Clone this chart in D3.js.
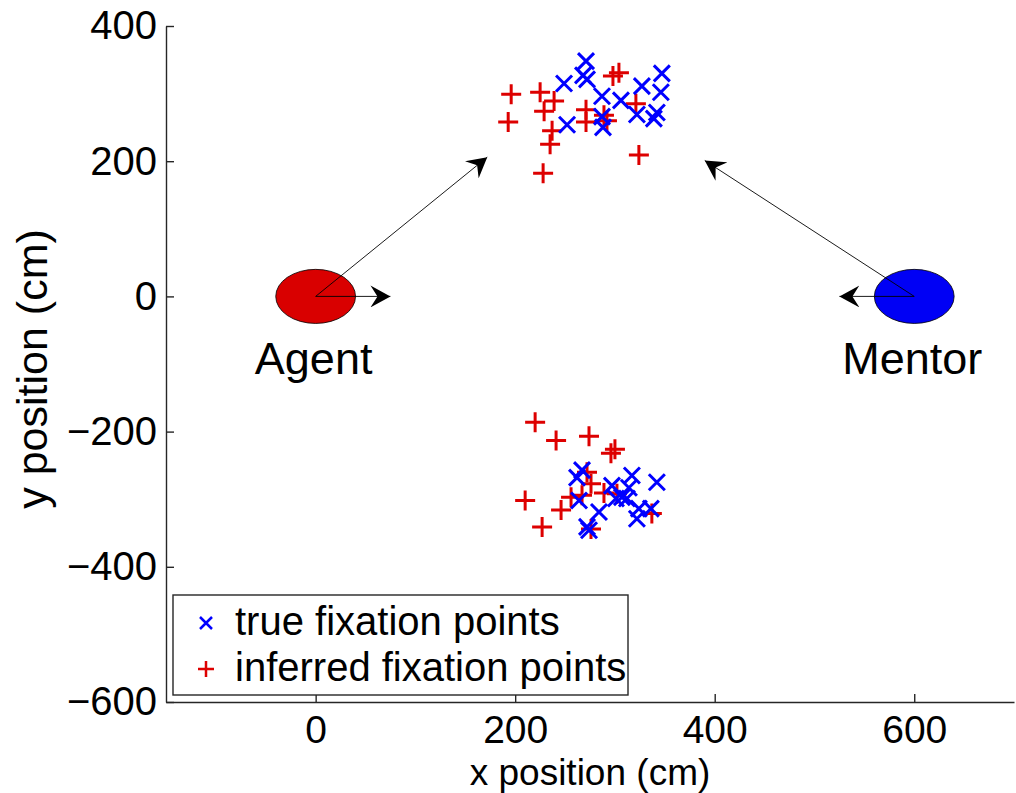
<!DOCTYPE html>
<html>
<head>
<meta charset="utf-8">
<script src="https://cdn.jsdelivr.net/npm/d3@7"></script>
<style>
  body { margin: 0; background: #fff; }
  text { font-family: "Liberation Sans", Arial, Helvetica, sans-serif; fill: #000; }
</style>
</head>
<body>
<div class="chart"></div>
<script>
// Data (cm)
var trueX = [271, 249, 268, 272, 287, 306, 327, 347, 346, 252, 287, 288, 322, 342, 339,
             267, 262, 264, 297, 317, 314, 307, 301, 284, 342, 324, 336, 322, 272, 274, 312];
var trueY = [348, 315, 327, 321, 296, 290, 311, 330, 302, 254, 266, 250, 269, 272, 263,
             -257, -268, -302, -280, -265, -283, -297, -299, -319, -275, -314, -314, -329, -341, -346, -299];

var inferredX = [196, 193, 225, 239, 229, 237, 235, 228, 298, 304, 271, 271, 289, 292, 321, 324,
                 220, 241, 274, 296, 300, 272, 276, 256, 267, 289, 302, 210, 246, 227, 276, 337];
var inferredY = [299, 258, 302, 289, 274, 245, 225, 182, 326, 331, 276, 258, 268, 260, 285, 209,
                 -186, -213, -207, -232, -226, -260, -277, -297, -294, -291, -292, -302, -316, -341, -344, -321];

var xTicks = [0, 200, 400, 600];
var yTicks = [-600, -400, -200, 0, 200, 400];

// agent and mentor positions, heading arrows and gaze arrows
var agentPos = [0, 0], mentorPos = [600, 0];
var bodyRadius = 40;
var agentHeading = [75, 0], mentorHeading = [525, 0];
var agentGaze = [172, 206], mentorGaze = [390, 201];

var svgWidth = 1016, svgHeight = 793;

var svg = d3.select(".chart")
    .append("svg")
    .attr("width", svgWidth)
    .attr("height", svgHeight);

svg.append("rect").attr("width", svgWidth).attr("height", svgHeight).attr("fill", "#fff");

var x = d3.scaleLinear().domain([-150, 700]).range([166, 1014]);
var y = d3.scaleLinear().domain([-600, 400]).range([702, 26]);

// axes (ticks point inward, no box)
var bottomAxis = d3.axisBottom(x).tickValues(xTicks).tickSizeInner(-8).tickSizeOuter(0).tickPadding(13);
var leftAxis = d3.axisLeft(y).tickValues(yTicks).tickSizeInner(-8).tickSizeOuter(0).tickPadding(9);

var gx = svg.append("g").attr("transform", `translate(0, ${y(-600)})`).call(bottomAxis);
var gy = svg.append("g").attr("transform", `translate(${x(-150)}, 0)`).call(leftAxis);

[gx, gy].forEach(function(g) {
  g.selectAll("path, line").attr("stroke", "#262626").attr("stroke-width", 1.4);
  g.selectAll("text").style("font-size", "40px").attr("fill", "#000");
});
gx.selectAll("text").style("font-size", "39px");

svg.append("text")
  .attr("x", (x(-150) + x(700)) / 2)
  .attr("y", 785)
  .attr("text-anchor", "middle")
  .style("font-size", "37px")
  .text("x position (cm)");

svg.append("text")
  .attr("transform", `translate(47, 369) rotate(-90)`)
  .attr("text-anchor", "middle")
  .style("font-size", "43px")
  .text("y position (cm)");

// arrowhead marker
var defs = svg.append("defs");
defs.append("marker")
  .attr("id", "head")
  .attr("viewBox", "-20 -11 20 22")
  .attr("refX", 0).attr("refY", 0)
  .attr("markerWidth", 20).attr("markerHeight", 22)
  .attr("markerUnits", "userSpaceOnUse")
  .attr("orient", "auto")
  .append("path")
  .attr("d", "M0,0L-20,-11L-13,0L-20,11Z")
  .attr("fill", "#000");

// bodies
var bodies = [
  { pos: agentPos, color: "#d90000", name: "Agent" },
  { pos: mentorPos, color: "#0000f5", name: "Mentor" }
];
svg.selectAll("ellipse.body")
  .data(bodies)
  .enter()
  .append("ellipse")
  .attr("class", "body")
  .attr("cx", d => x(d.pos[0]))
  .attr("cy", d => y(d.pos[1]))
  .attr("rx", d => x(d.pos[0] + bodyRadius) - x(d.pos[0]))
  .attr("ry", d => y(d.pos[1] - bodyRadius) - y(d.pos[1]))
  .attr("fill", d => d.color)
  .attr("stroke", "#000")
  .attr("stroke-width", 0.8);

svg.selectAll("text.name")
  .data(bodies)
  .enter()
  .append("text")
  .attr("class", "name")
  .attr("x", d => x(d.pos[0]) - 2)
  .attr("y", y(-115))
  .attr("text-anchor", "middle")
  .style("font-size", "45px")
  .text(d => d.name);

var arrows = [
  [agentPos, agentHeading], [agentPos, agentGaze],
  [mentorPos, mentorHeading], [mentorPos, mentorGaze]
];
svg.selectAll("line.arrow")
  .data(arrows)
  .enter()
  .append("line")
  .attr("class", "arrow")
  .attr("x1", d => x(d[0][0]))
  .attr("y1", d => y(d[0][1]))
  .attr("x2", d => x(d[1][0]))
  .attr("y2", d => y(d[1][1]))
  .attr("stroke", "#000")
  .attr("stroke-width", 0.9)
  .attr("marker-end", "url(#head)");

// markers
function crossPath(s) { return `M${-s},${-s}L${s},${s}M${-s},${s}L${s},${-s}`; }
function plusPath(s) { return `M${-s},0L${s},0M0,${-s}L0,${s}`; }

svg.selectAll("path.inferred")
  .data(d3.range(inferredX.length))
  .enter()
  .append("path")
  .attr("class", "inferred")
  .attr("transform", i => `translate(${x(inferredX[i])},${y(inferredY[i])})`)
  .attr("d", plusPath(10))
  .attr("stroke", "#dd0000")
  .attr("stroke-width", 3)
  .attr("fill", "none");

svg.selectAll("path.true")
  .data(d3.range(trueX.length))
  .enter()
  .append("path")
  .attr("class", "true")
  .attr("transform", i => `translate(${x(trueX[i])},${y(trueY[i])})`)
  .attr("d", crossPath(8))
  .attr("stroke", "#0000ff")
  .attr("stroke-width", 3)
  .attr("fill", "none");

// legend
var legend = svg.append("g");
legend.append("rect")
  .attr("x", 173).attr("y", 595)
  .attr("width", 455).attr("height", 100)
  .attr("fill", "#fff")
  .attr("stroke", "#262626")
  .attr("stroke-width", 1.4);

var legendItems = [
  { label: "true fixation points", color: "#0000ff", d: crossPath(6), yy: 623 },
  { label: "inferred fixation points", color: "#dd0000", d: plusPath(8), yy: 669 }
];
legendItems.forEach(function(item) {
  legend.append("path")
    .attr("transform", `translate(206, ${item.yy})`)
    .attr("d", item.d)
    .attr("stroke", item.color)
    .attr("stroke-width", 2.5)
    .attr("fill", "none");
  legend.append("text")
    .attr("x", 235)
    .attr("y", item.yy + 12)
    .style("font-size", "40px")
    .text(item.label);
});
</script>
</body>
</html>
